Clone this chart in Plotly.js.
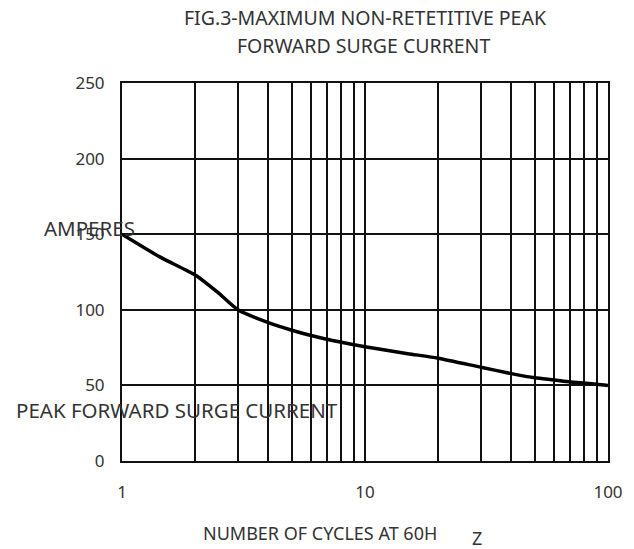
<!DOCTYPE html>
<html>
<head>
<meta charset="utf-8">
<script src="https://cdn.plot.ly/plotly-3.0.1.min.js"></script>
<style>html,body{margin:0;padding:0;background:#fff;}#chart{width:634px;height:549px;}</style>
</head>
<body>
<div id="chart"></div>
<script>
// Data
const cycles = [1, 1.43, 2, 2.5, 3, 4, 5, 6, 8, 10, 15, 20, 30, 40, 50, 60, 70, 90, 100];
const amperes = [150, 135, 123, 111, 100, 91.5, 86.5, 83, 78.5, 75.5, 71, 68, 62, 57.8, 55, 53.6, 52.3, 50.8, 50];
const xGridVals = [1,2,3,4,5,6,7,8,9,10,20,30,40,50,60,70,80,90,100];
const xGridText = ['1','','','','','','','','','10','','','','','','','','','100'];
const yTickVals = [0, 50, 100, 150, 200, 250];

const font = 'Noto Sans, Open Sans, DejaVu Sans, sans-serif';
const txt = '#333';
const trace = {
  x: cycles, y: amperes, type: 'scatter', mode: 'lines',
  line: {color: '#000', width: 3.5, shape: 'spline', smoothing: 0.6},
  hoverinfo: 'skip', showlegend: false
};
function ann(text, x, y, size, xanchor) {
  return {text: text, xref: 'paper', yref: 'paper', x: x, y: y, xanchor: xanchor || 'center',
          yanchor: 'middle', showarrow: false, font: {family: font, size: size, color: txt}};
}
const layout = {
  width: 634, height: 549,
  margin: {l: 122, r: 26, t: 83, b: 88},
  paper_bgcolor: '#fff', plot_bgcolor: '#fff',
  font: {family: font, size: 17, color: txt},
  xaxis: {type: 'log', range: [0, 2], tickvals: xGridVals, ticktext: xGridText,
          showgrid: true, gridcolor: '#111', gridwidth: 2,
          showline: true, linecolor: '#111', linewidth: 2, mirror: true,
          ticks: '', ticklabelstandoff: 15, zeroline: false,
          tickfont: {family: font, size: 17, color: txt}},
  yaxis: {range: [0, 250], tickvals: yTickVals,
          showgrid: true, gridcolor: '#111', gridwidth: 2,
          showline: true, linecolor: '#111', linewidth: 2, mirror: true,
          ticks: '', ticklabelstandoff: 12, zeroline: false,
          tickfont: {family: font, size: 17, color: txt}},
  annotations: [
    ann('FIG.3-MAXIMUM NON-RETETITIVE PEAK', 0.5, 1.172, 19.5),
    ann('FORWARD SURGE CURRENT', 0.496, 1.10, 19.5),
    ann('AMPERES', -0.165, 0.616, 20.5, 'left'),
    ann('PEAK FORWARD SURGE CURRENT', -0.222, 0.135, 20.5, 'left'),
    ann('NUMBER OF CYCLES AT 60H', 0.407, -0.19, 18),
    ann('Z', 0.73, -0.204, 18)
  ]
};
Plotly.newPlot('chart', [trace], layout, {staticPlot: true, displayModeBar: false});
</script>
</body>
</html>
